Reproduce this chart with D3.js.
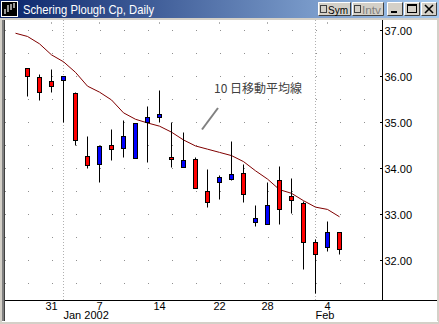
<!DOCTYPE html>
<html><head><meta charset="utf-8">
<script src="https://cdn.jsdelivr.net/npm/d3@7"></script>
<style>html,body{margin:0;padding:0;background:#d4d0c8;overflow:hidden}</style>
</head><body>
<script>
// ---- data ----
const dates = ["Dec 26","Dec 27","Dec 28","Dec 31","Jan 2","Jan 3","Jan 4","Jan 7","Jan 8","Jan 9","Jan 10","Jan 11","Jan 14","Jan 15","Jan 16","Jan 17","Jan 18","Jan 22","Jan 23","Jan 24","Jan 25","Jan 28","Jan 29","Jan 30","Jan 31","Feb 1","Feb 4","Feb 5"];
const openP  = [null,36.18,35.98,35.90,35.93,35.64,34.27,34.10,34.50,34.44,34.23,35.00,35.13,34.25,34.04,34.21,33.50,33.70,33.78,33.90,32.84,32.80,33.74,33.40,33.25,32.40,32.30,32.62];
const highP  = [null,36.18,36.05,36.16,36.00,35.66,34.71,34.51,34.85,35.05,34.98,35.36,35.71,35.01,34.79,34.25,33.99,33.86,34.60,34.10,33.21,33.71,34.06,33.79,33.30,32.46,32.86,32.62];
const lowP   = [null,35.58,35.49,35.67,35.02,34.50,34.00,33.71,34.19,34.25,34.23,34.15,35.00,34.04,34.04,33.57,33.16,33.34,33.76,33.27,32.75,32.80,32.80,33.04,31.82,31.30,32.21,32.15];
const closeP = [null,36.00,35.66,35.80,36.00,34.63,34.08,34.49,34.43,34.70,34.98,35.13,35.18,34.20,34.18,33.57,33.27,33.82,33.87,33.45,32.92,33.21,33.13,33.32,32.40,32.15,32.62,32.24];
const ma10   = [36.94,36.87,36.71,36.47,36.32,36.09,35.79,35.66,35.49,35.21,35.07,34.99,34.92,34.79,34.62,34.49,34.42,34.35,34.28,34.15,33.95,33.77,33.54,33.46,33.30,33.16,33.11,32.95];
const xTickDates = ["Dec 31","Jan 7","Jan 14","Jan 22","Jan 28","Feb 4"];
const xTickText  = ["31","7","14","22","28","4"];
const monthStarts = ["Jan 2","Feb 1"];
const monthText   = ["Jan 2002","Feb"];
const priceTicks = [32,33,34,35,36,37];
const gridLevels = [31.5,32,32.5,33,33.5,34,34.5,35,35.5,36,36.5,37];
const titleText = "Schering Plough Cp, Daily";
const noteText = "10 日移動平均線";

// ---- layout ----
const W = 439, H = 324;
const plotL = 5, plotR = 382, plotT = 20, plotB = 300;
const svg = d3.select("body").append("svg").attr("width", W).attr("height", H)
  .style("display","block").style("font-family","'Liberation Sans', Arial, sans-serif");

// window frame
svg.append("rect").attr("x",0).attr("y",0).attr("width",W).attr("height",H).attr("fill","#d4d0c8");
const defs = svg.append("defs");
const grad = defs.append("linearGradient").attr("id","tb").attr("x1","0").attr("x2","1");
grad.append("stop").attr("offset","0").attr("stop-color","#0a246a");
grad.append("stop").attr("offset","1").attr("stop-color","#a6caf0");
svg.append("rect").attr("x",0).attr("y",0).attr("width",W).attr("height",18).attr("fill","url(#tb)");
// icon
svg.append("rect").attr("x",1.5).attr("y",1.5).attr("width",16).attr("height",15).attr("fill","#000").attr("stroke","#fff");
const ic = svg.append("g").attr("stroke","#fff").attr("stroke-width",1.2);
[[5,9,14],[8,5,12],[11,4,10],[14,3,8]].forEach(d=>ic.append("line").attr("x1",d[0]).attr("x2",d[0]).attr("y1",d[1]).attr("y2",d[2]));
svg.append("text").attr("x",23).attr("y",14).attr("fill","#fff").attr("font-size",13)
  .attr("textLength",131).attr("lengthAdjust","spacingAndGlyphs").text(titleText);
// buttons
function btn(x,w){
  const g = svg.append("g");
  g.append("rect").attr("x",x).attr("y",2).attr("width",w).attr("height",14).attr("fill","#d4d0c8");
  g.append("path").attr("d",`M${x+0.5},${15.5}V${2.5}H${x+w-0.5}`).attr("stroke","#fff").attr("fill","none");
  g.append("path").attr("d",`M${x+0.5},${15.5}H${x+w-0.5}V${2.5}`).attr("stroke","#404040").attr("fill","none");
  return g;
}
let g1 = btn(318,33); g1.append("rect").attr("x",320.5).attr("y",5.5).attr("width",6).attr("height",7).attr("fill","#d4d0c8").attr("stroke","#404040");
g1.append("text").attr("x",328).attr("y",13.5).attr("font-size",11).attr("fill","#000")
  .attr("textLength",20).attr("lengthAdjust","spacingAndGlyphs").text("Sym");
let g2 = btn(352,32); g2.append("rect").attr("x",354.5).attr("y",5.5).attr("width",6).attr("height",7).attr("fill","#d4d0c8").attr("stroke","#404040");
g2.append("text").attr("x",362).attr("y",13.5).attr("font-size",11).attr("fill","#808080")
  .attr("textLength",19).attr("lengthAdjust","spacingAndGlyphs").text("Intv");
let g3 = btn(387,16); g3.append("rect").attr("x",391).attr("y",11).attr("width",6).attr("height",2).attr("fill","#000");
let g4 = btn(404,16); g4.append("rect").attr("x",407.5).attr("y",4.5).attr("width",9).attr("height",8).attr("fill","none").attr("stroke","#000");
g4.append("rect").attr("x",407).attr("y",4).attr("width",10).attr("height",2).attr("fill","#000");
let g5 = btn(421,16); g5.append("path").attr("d","M425,5L433,13M433,5L425,13").attr("stroke","#000").attr("stroke-width",1.6);

// client area
svg.append("rect").attr("x",5).attr("y",20).attr("width",432).attr("height",301).attr("fill","#fff");
svg.append("rect").attr("x",2).attr("y",20).attr("width",3).attr("height",302).attr("fill","#808080");
svg.append("rect").attr("x",4).attr("y",20).attr("width",1).attr("height",302).attr("fill","#404040");
svg.append("rect").attr("x",2).attr("y",321).attr("width",436).attr("height",1).attr("fill","#fff");

// ---- scales ----
const x = d3.scalePoint().domain(dates).range([15.5, 339.5]);
const step = x.step();
const y = d3.scaleLinear().domain([31.141, 37.228]).range([plotB, plotT]);
const py = v => Math.round(y(v)) + 0.5;

// grid dots
const gridG = svg.append("g").attr("fill","#909090");
gridLevels.forEach(lv => {
  for (let xx = x(dates[1]); xx < plotR - 2; xx += 2*step) {
    gridG.append("rect").attr("x",Math.round(xx)).attr("y",Math.round(y(lv))).attr("width",1).attr("height",1);
  }
  gridG.append("rect").attr("x",5).attr("y",Math.round(y(lv))).attr("width",1).attr("height",1);
});
// month separators
monthStarts.forEach(d => {
  svg.append("line").attr("x1",x(d)).attr("x2",x(d)).attr("y1",plotT).attr("y2",plotB)
    .attr("stroke","#b0b0b0").attr("stroke-dasharray","1,2");
});
// top tick dots at label positions
xTickDates.forEach(d => {
  svg.append("rect").attr("x",Math.floor(x(d))).attr("y",22).attr("width",1).attr("height",2).attr("fill","#b0b0b0");
});

// ---- moving average ----
const line = d3.line().x((d,i)=>x(dates[i])).y(d=>y(d));
svg.append("path").datum(ma10).attr("d",line).attr("fill","none").attr("stroke","#800000").attr("stroke-width",1);

// ---- candles ----
const idx = d3.range(dates.length).filter(i => openP[i] !== null);
const cg = svg.append("g");
idx.forEach(i => {
  const cx = x(dates[i]);
  cg.append("line").attr("x1",cx).attr("x2",cx).attr("y1",py(highP[i])).attr("y2",py(lowP[i]))
    .attr("stroke","#000").attr("stroke-width",1);
  const top = py(Math.max(openP[i],closeP[i])), bot = py(Math.min(openP[i],closeP[i]));
  cg.append("rect").attr("x",cx-2).attr("y",top).attr("width",4).attr("height",Math.max(bot-top,1))
    .attr("fill", closeP[i] >= openP[i] ? "#0000ff" : "#ff0000").attr("stroke","#000").attr("stroke-width",1);
});

// ---- axes ----
svg.append("line").attr("x1",plotL).attr("x2",437).attr("y1",plotB+0.5).attr("y2",plotB+0.5).attr("stroke","#000");
svg.append("line").attr("x1",plotR+0.5).attr("x2",plotR+0.5).attr("y1",plotT).attr("y2",plotB).attr("stroke","#000");
const yAxis = d3.axisRight(y).tickValues(priceTicks).tickFormat(d3.format(".2f")).tickSize(0).tickPadding(2);
const ya = svg.append("g").attr("transform",`translate(${plotR+0.5},0)`).call(yAxis);
ya.select(".domain").remove();
ya.selectAll("text").attr("font-size",11).attr("fill","#000").attr("font-family","'Liberation Sans', Arial, sans-serif");
priceTicks.forEach(p => svg.append("line").attr("x1",plotR-2).attr("x2",plotR).attr("y1",py(p)).attr("y2",py(p)).attr("stroke","#000"));

xTickDates.forEach((d,i) => {
  svg.append("text").attr("x",x(d)).attr("y",309.5).attr("text-anchor","middle").attr("font-size",11).attr("fill","#000").text(xTickText[i]);
});
monthStarts.forEach((d,i) => {
  svg.append("text").attr("x",x(d)).attr("y",318.5).attr("font-size",11).attr("fill","#000").text(monthText[i]);
});

// ---- annotation ----
svg.append("text").attr("x",214).attr("y",93).attr("font-size",12).attr("fill","#404040")
  .attr("font-family","'Noto Sans CJK JP', sans-serif").text(noteText);
svg.append("line").attr("x1",218).attr("y1",108).attr("x2",202).attr("y2",129.5).attr("stroke","#808080").attr("stroke-width",2);
</script>
</body></html>
